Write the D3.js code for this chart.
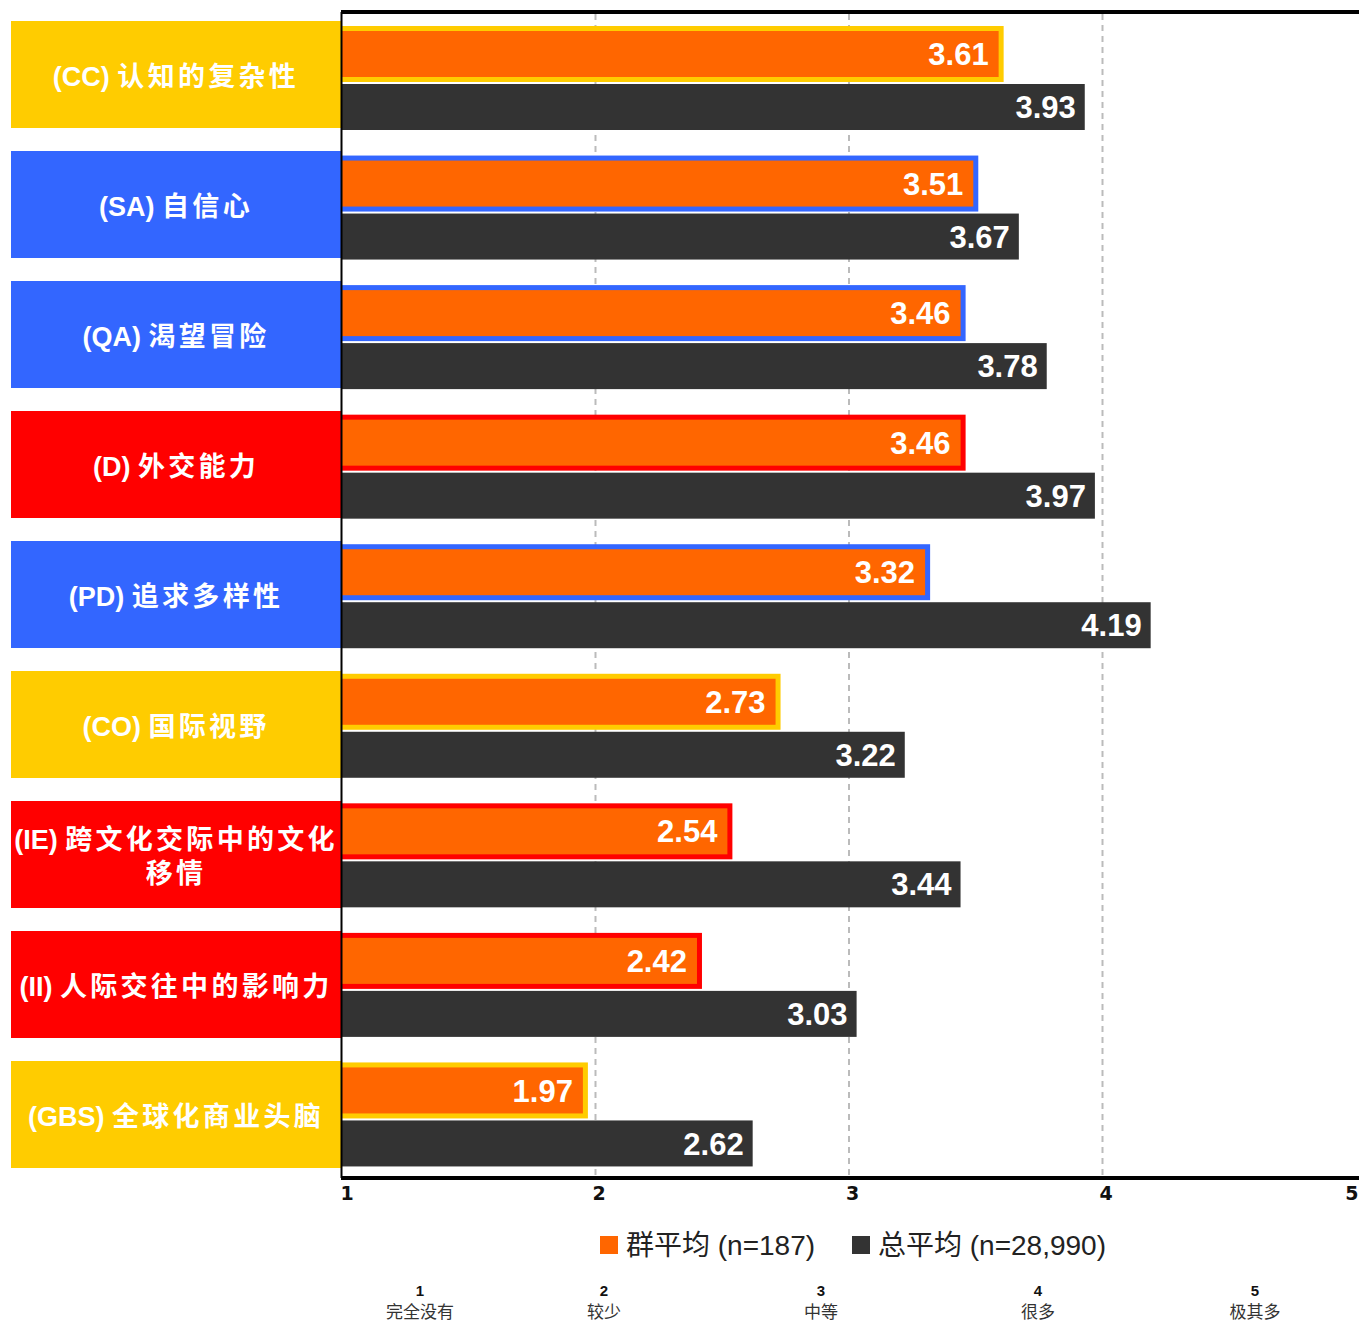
<!DOCTYPE html>
<html>
<head>
<meta charset="utf-8">
<script src="https://cdn.jsdelivr.net/npm/d3@7/dist/d3.min.js"></script>
<style>
  html, body { margin: 0; padding: 0; background: #fff; }
  svg { display: block; }
</style>
</head>
<body>
<svg id="chart" width="1359" height="1322"></svg>
<script>
// ---- data ----
const categories = [
  "(CC) 认知的复杂性",
  "(SA) 自信心",
  "(QA) 渴望冒险",
  "(D) 外交能力",
  "(PD) 追求多样性",
  "(CO) 国际视野",
  "(IE) 跨文化交际中的文化\n移情",
  "(II) 人际交往中的影响力",
  "(GBS) 全球化商业头脑"
];
const groupMeans   = [3.61, 3.51, 3.46, 3.46, 3.32, 2.73, 2.54, 2.42, 1.97];
const overallMeans = [3.93, 3.67, 3.78, 3.97, 4.19, 3.22, 3.44, 3.03, 2.62];
const categoryColors = ["#FFCC00", "#3366FF", "#3366FF", "#FF0000", "#3366FF", "#FFCC00", "#FF0000", "#FF0000", "#FFCC00"];
const tickValues = [1, 2, 3, 4, 5];
const gridValues = [2, 3, 4];
const scaleLabels = ["完全没有", "较少", "中等", "很多", "极其多"];
const seriesNames = ["群平均 (n=187)", "总平均 (n=28,990)"];
const seriesColors = ["#FF6600", "#333333"];

// ---- layout ----
const svg = d3.select("#chart");
const FONT = "'Liberation Sans', Arial, 'Noto Sans CJK SC', sans-serif";
const plotLeft = 342, plotRight = 1356, plotTop = 12, plotBottom = 1178;

const x = d3.scaleLinear().domain([1, 5]).range([plotLeft, plotRight]);
const y = d3.scaleBand().domain(categories).range([plotTop, plotBottom]);
const boxY = d3.scaleBand().domain(categories).range([21, 1168]).paddingInner(23 / 130).paddingOuter(0);

// gridlines
svg.append("g").selectAll("line").data(gridValues).join("line")
  .attr("x1", d => x(d)).attr("x2", d => x(d))
  .attr("y1", plotTop + 2).attr("y2", plotBottom - 2)
  .attr("stroke", "#bbbbbb").attr("stroke-width", 2)
  .attr("stroke-dasharray", "6,5");

// category label boxes
const boxes = svg.append("g").selectAll("g").data(categories).join("g");
boxes.append("rect")
  .attr("x", 11).attr("y", d => boxY(d))
  .attr("width", 330).attr("height", boxY.bandwidth())
  .attr("fill", (d, i) => categoryColors[i]);
boxes.append("text")
  .attr("font-family", FONT).attr("font-weight", "bold")
  .attr("font-size", 27).attr("fill", "#fff")
  .attr("text-anchor", "middle")
  .each(function (d) {
    const lines = d.split("\n");
    const cy = boxY(d) + boxY.bandwidth() / 2 + 2;
    const lh = 34;
    const t = d3.select(this);
    lines.forEach((ln, k) => {
      const ly = cy + (k - (lines.length - 1) / 2) * lh;
      const m = ln.match(/^(\(.*?\))\s(.*)$/);
      if (m) {
        t.append("tspan").attr("x", 176).attr("y", ly).attr("dy", "0.35em")
          .text(m[1] + " ");
        t.append("tspan").attr("letter-spacing", 3.3).text(m[2]);
      } else {
        t.append("tspan").attr("x", 176).attr("y", ly).attr("dy", "0.35em")
          .attr("letter-spacing", 3.3).text(ln);
      }
    });
  });

// bars
const rows = svg.append("g").selectAll("g").data(categories).join("g")
  .attr("transform", d => `translate(0,${y(d)})`);

// group (orange) bar with coloured border
rows.append("rect")
  .attr("x", plotLeft).attr("y", 14)
  .attr("width", (d, i) => x(groupMeans[i]) - plotLeft)
  .attr("height", 56)
  .attr("fill", (d, i) => categoryColors[i]);
rows.append("rect")
  .attr("x", plotLeft).attr("y", 19)
  .attr("width", (d, i) => x(groupMeans[i]) - plotLeft - 5)
  .attr("height", 46)
  .attr("fill", seriesColors[0]);
rows.append("text")
  .attr("x", (d, i) => x(groupMeans[i]) - 15)
  .attr("y", 19 + 23).attr("dy", "0.36em")
  .attr("text-anchor", "end")
  .attr("font-family", FONT).attr("font-weight", "bold")
  .attr("font-size", 31).attr("fill", "#fff")
  .text((d, i) => groupMeans[i].toFixed(2));

// overall (dark) bar
rows.append("rect")
  .attr("x", plotLeft).attr("y", 72)
  .attr("width", (d, i) => x(overallMeans[i]) - plotLeft)
  .attr("height", 46)
  .attr("fill", seriesColors[1]);
rows.append("text")
  .attr("x", (d, i) => x(overallMeans[i]) - 9)
  .attr("y", 72 + 23).attr("dy", "0.36em")
  .attr("text-anchor", "end")
  .attr("font-family", FONT).attr("font-weight", "bold")
  .attr("font-size", 31).attr("fill", "#fff")
  .text((d, i) => overallMeans[i].toFixed(2));

// frame lines
svg.append("line").attr("x1", plotLeft - 1).attr("x2", 1359)
  .attr("y1", plotTop).attr("y2", plotTop)
  .attr("stroke", "#000").attr("stroke-width", 4);
svg.append("line").attr("x1", plotLeft - 1).attr("x2", 1359)
  .attr("y1", plotBottom).attr("y2", plotBottom)
  .attr("stroke", "#000").attr("stroke-width", 4);
svg.append("line").attr("x1", plotLeft - 0.5).attr("x2", plotLeft - 0.5)
  .attr("y1", plotTop).attr("y2", plotBottom)
  .attr("stroke", "#000").attr("stroke-width", 2);

// x axis tick labels
const axis = d3.axisBottom(x).tickValues(tickValues).tickSize(0).tickFormat(d3.format("d"));
const axG = svg.append("g").attr("transform", `translate(0,${plotBottom})`).call(axis);
axG.select(".domain").remove();
const lastTick = tickValues.length - 1;
axG.selectAll(".tick text")
  .attr("font-family", "'DejaVu Sans', Verdana, sans-serif")
  .attr("font-weight", "bold").attr("font-size", 19)
  .attr("fill", "#111")
  .attr("y", 9).attr("dy", "0.71em")
  .attr("text-anchor", (d, i) => i === 0 ? "start" : (i === lastTick ? "end" : "middle"))
  .attr("x", (d, i) => i === 0 ? -2 : (i === lastTick ? 2 : 3));

// legend
const legendX = [600, 852];
const leg = svg.append("g").selectAll("g").data(seriesNames).join("g")
  .attr("transform", (d, i) => `translate(${legendX[i]},1236)`);
leg.append("rect").attr("x", 0).attr("y", 0).attr("width", 18).attr("height", 18)
  .attr("fill", (d, i) => seriesColors[i]);
leg.append("text").attr("x", 26).attr("y", 9).attr("dy", "0.36em")
  .attr("font-family", FONT).attr("font-size", 28).attr("fill", "#222")
  .text(d => d);

// bottom scale legend
const scaleX = d3.scaleOrdinal().domain(tickValues).range([420, 604, 821, 1038, 1255]);
const sl = svg.append("g").selectAll("g").data(tickValues).join("g")
  .attr("transform", d => `translate(${scaleX(d)},0)`);
sl.append("text").attr("y", 1296).attr("text-anchor", "middle")
  .attr("font-family", FONT).attr("font-weight", "bold").attr("font-size", 15)
  .attr("fill", "#111").text(d => d);
sl.append("text").attr("y", 1318).attr("text-anchor", "middle")
  .attr("font-family", FONT).attr("font-size", 17)
  .attr("fill", "#333").text((d, i) => scaleLabels[i]);
</script>
</body>
</html>
